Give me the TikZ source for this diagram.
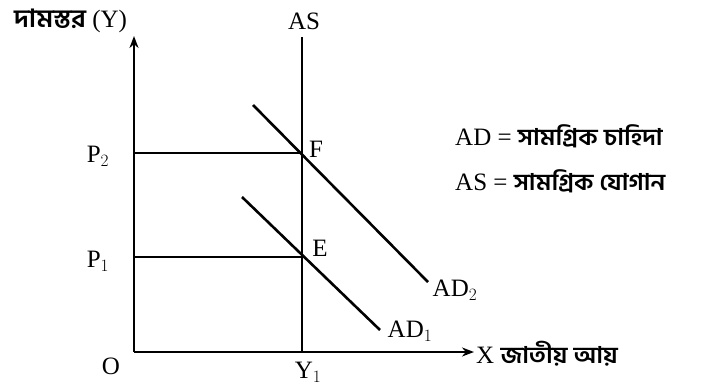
\documentclass[tikz,border=0pt]{standalone}
\usepackage{fontspec}
\setmainfont{Liberation Serif}
\newfontfamily\bn[Script=Bengali,FakeStretch=1.1]{Hind Siliguri}
\usetikzlibrary{arrows.meta}
\begin{document}
\begin{tikzpicture}[x=1pt,y=-1pt,
  ln/.style={line width=2.6pt},
  ax/.style={line width=2.6pt,-{Stealth[length=12pt,width=9pt]}},
  lab/.style={font=\fontsize{25}{27}\selectfont,inner sep=0pt}]
\newcommand\bnt[1]{{\bn\bfseries\fontsize{23}{26}\selectfont #1}}
\useasboundingbox (0,0) rectangle (703,385);
\coordinate (O) at (134,352);
\coordinate (Ytop) at (134,36);
\coordinate (Xend) at (474,352);
\coordinate (AStop) at (302,37);
\coordinate (Y1) at (302,352);
\coordinate (F) at (302,153);
\coordinate (E) at (302,257);
\coordinate (P2) at (134,153);
\coordinate (P1) at (134,257);
\coordinate (AD2a) at (253,105);
\coordinate (AD2b) at (428,282);
\coordinate (AD1a) at (242,197);
\coordinate (AD1b) at (380,330);
% axes
\draw[ax] (O) -- (Ytop);
\draw[ax] (O) -- (Xend);
\draw[ln] (Y1) -- (AStop);
\draw[ln] (P2) -- (F);
\draw[ln] (P1) -- (E);
\draw[ln] (AD2a) -- (AD2b);
\draw[ln] (AD1a) -- (AD1b);
% labels
\node[lab] (lAS) at (304,21) {AS};
\node[lab] (lF) at (316,149) {F};
\node[lab] (lE) at (320,248) {E};
\node[lab] (lP2) at (98,156) {P$_2$};
\node[lab] (lP1) at (98,261) {P$_1$};
\node[lab] (lO) at (111,366) {O};
\node[lab] (lY1) at (308,372) {Y$_1$};
\node[lab] (lAD2) at (455,290) {AD$_2$};
\node[lab] (lAD1) at (410,331) {AD$_1$};
\node[lab,anchor=west] (lX) at (476,354) {X \bnt{জাতীয় আয়}};
\node[lab,anchor=west] (lY) at (14,21) {{\bn\bfseries\fontsize{25}{28}\selectfont দামস্তর} (Y)};
\node[lab,anchor=west] (leg1) at (455,136) {AD = \bnt{সামগ্রিক চাহিদা}};
\node[lab,anchor=west] (leg2) at (455,181) {AS = \bnt{সামগ্রিক যোগান}};
\end{tikzpicture}
\end{document}
